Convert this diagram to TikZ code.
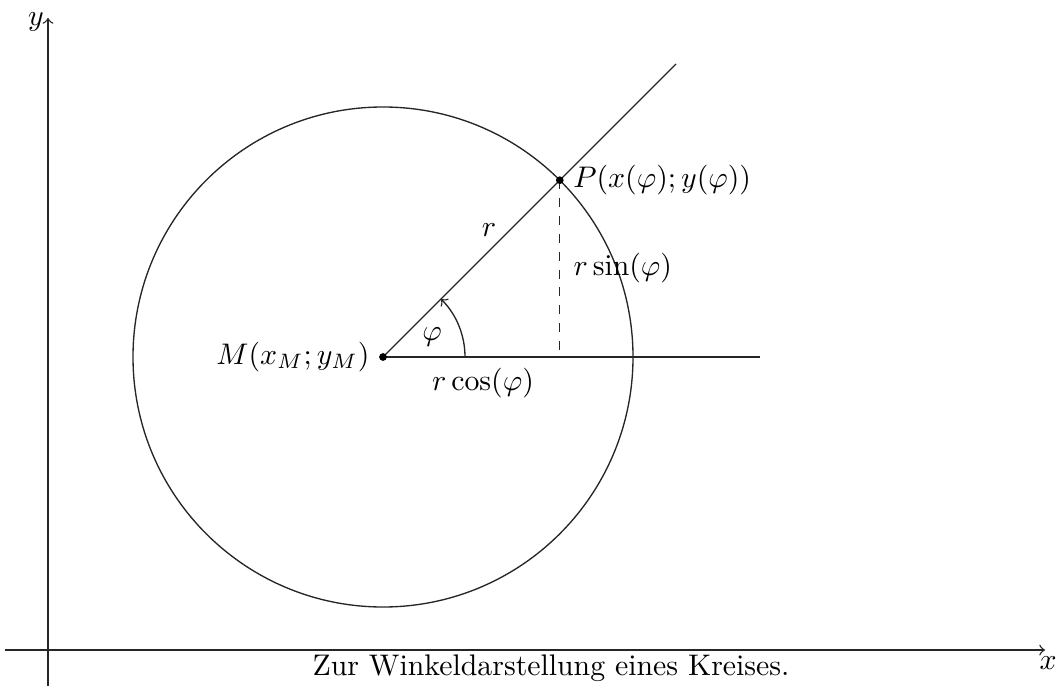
\documentclass[tikz,border=0pt]{standalone}
\usetikzlibrary{calc}
\begin{document}
\begin{tikzpicture}[x=0.0118cm,y=-0.0118cm,
  ln/.style={draw=black!85,line width=0.45pt},
  dotpt/.style={circle,fill=black,inner sep=0pt,minimum size=2.6pt}]
\useasboundingbox (0,0) rectangle (1060,686);
% axes
\coordinate (xs) at (5,650);
\coordinate (xe) at (1045,650);
\coordinate (ys) at (48,686);
\coordinate (ye) at (48,18);
\draw[ln,->] (xs) -- (xe);
\draw[ln,->] (ys) -- (ye);
\node (ylab) at (36,22) {$y$};
\node (xlab) at (1048,663) {$x$};
% circle
\coordinate (M) at (383,357);
\draw[ln] (M) circle (250);
\coordinate (P) at ($(M)+(176.8,-176.8)$);
\coordinate (Lend) at (676,64);
\coordinate (Hend) at (760,357);
\coordinate (F) at ($(M)+(176.8,0)$);
\draw[ln] (M) -- (Lend);
\draw[ln] (M) -- (Hend);
\draw[ln,dashed] (P) -- (F);
\draw[ln,->] ($(M)+(82,0)$) arc[start angle=0,end angle=-45,radius=82];
\node[dotpt] (Mdot) at (M) {};
\node[dotpt] (Pdot) at (P) {};
\node[left] (Mlab) at ($(M)+(-3,0)$) {$M(x_M;y_M)$};
\node[right] (Plab) at ($(P)+(3,0)$) {$P(x(\varphi);y(\varphi))$};
\node (phi) at (432,337) {$\varphi$};
\node (rlab) at (489,230) {$r$};
\node[right] (rsin) at (563,268) {$r\sin(\varphi)$};
\node (rcos) at (483,383) {$r\cos(\varphi)$};
\node (cap) at (551,668) {Zur Winkeldarstellung eines Kreises.};
\end{tikzpicture}
\end{document}
